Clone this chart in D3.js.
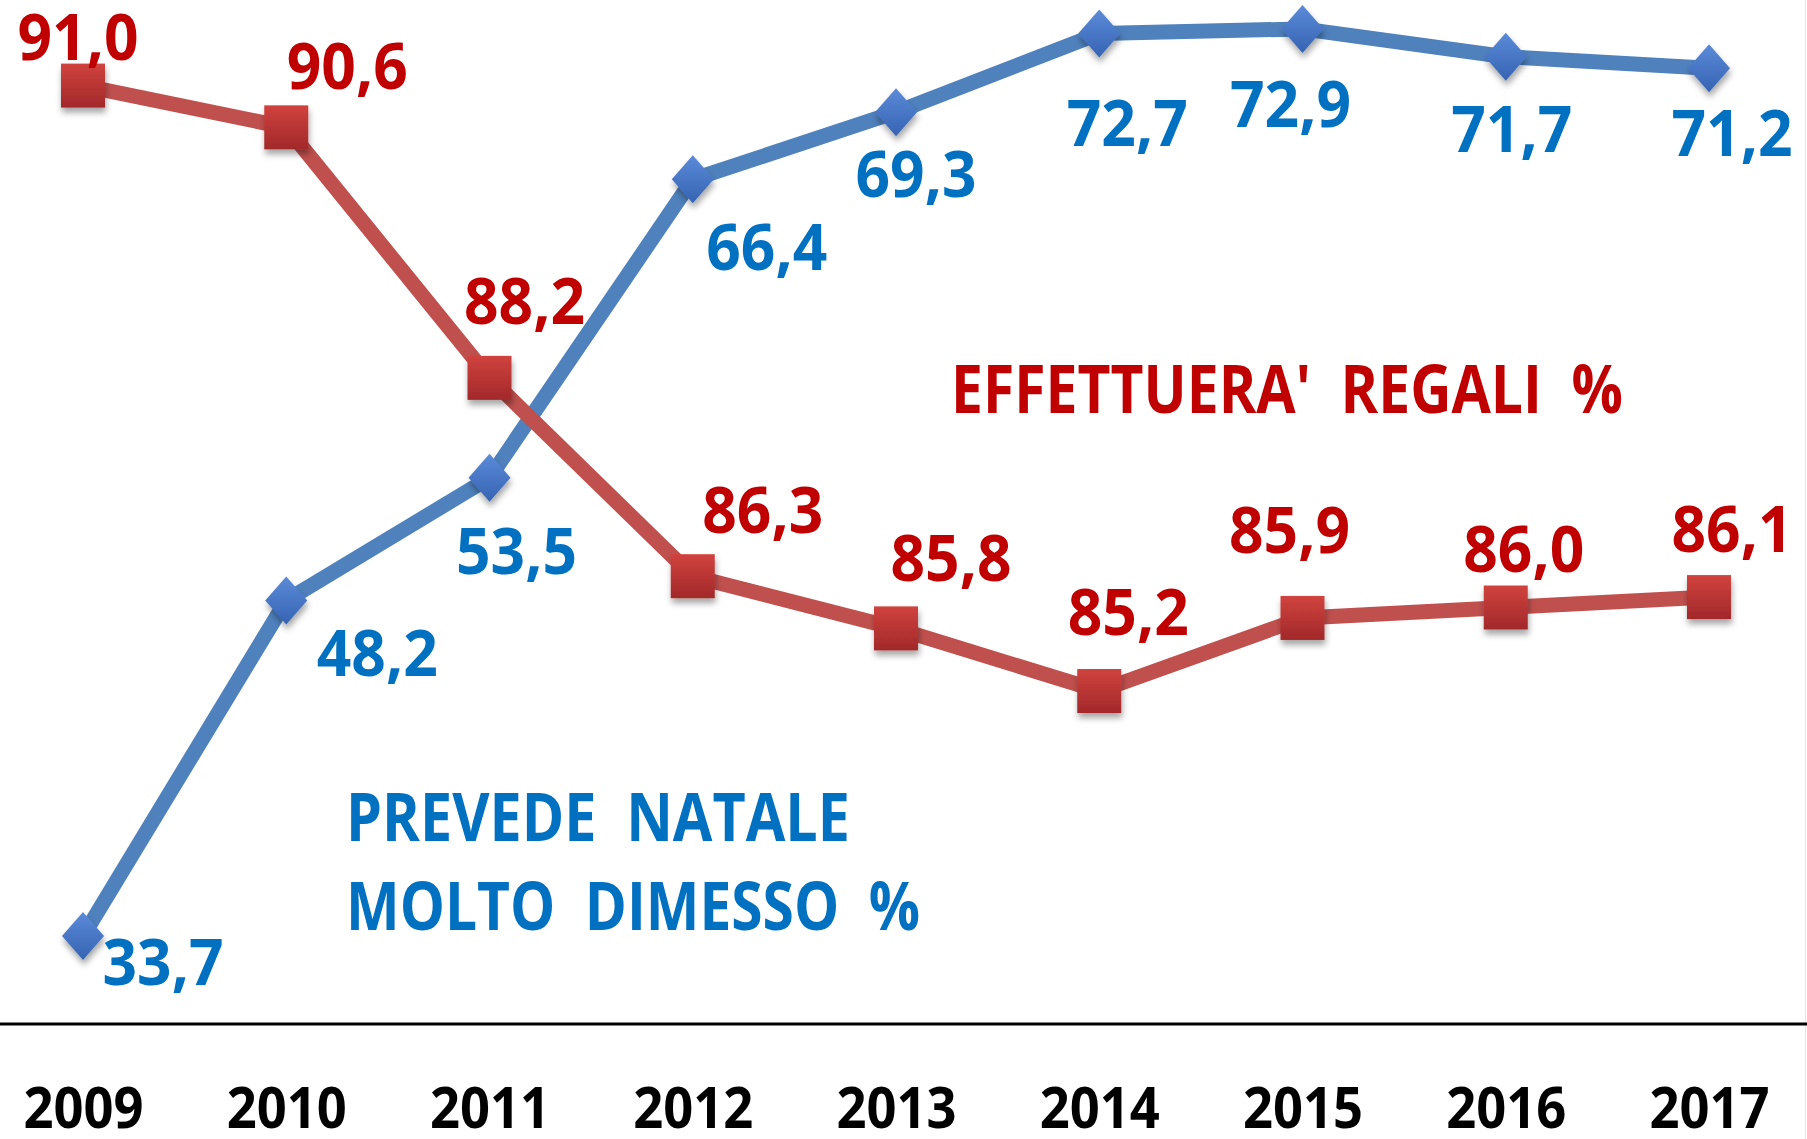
<!DOCTYPE html>
<html>
<head>
<meta charset="utf-8">
<script src="https://cdn.jsdelivr.net/npm/d3@7"></script>
<style>
  html, body { margin: 0; padding: 0; background: #fff; }
  text { font-family: "Open Sans", "Noto Sans", sans-serif; font-weight: 700; }
</style>
</head>
<body>
<div class="container"></div>
<script>
let width = 1807,
    height = 1139;

// data
let years = ["2009", "2010", "2011", "2012", "2013", "2014", "2015", "2016", "2017"];
let regali = [91.0, 90.6, 88.2, 86.3, 85.8, 85.2, 85.9, 86.0, 86.1];
let dimesso = [33.7, 48.2, 53.5, 66.4, 69.3, 72.7, 72.9, 71.7, 71.2];

// label offsets from the point (layout only)
let redLabelDx = [-5, 61, 35, 70, 55, 29, -13, 18, 23];
let redLabelDy = [-26, -38, -54, -43, -47, -56, -65, -36, -45];
let blueLabelDx = [80, 91, 27, 74, 20, 28, -12, 6, 23];
let blueLabelDy = [49, 75, 96, 91, 85, 112, 98, 95, 88];

let redText = "#C00000", redLine = "#C0504D";
let blueText = "#0070C0", blueLine = "#4F81BD";

let fmt = v => d3.format(".1f")(v).replace(".", ",");

let svg = d3.select(".container").append("svg")
    .attr("xmlns", "http://www.w3.org/2000/svg")
    .attr("width", width)
    .attr("height", height);

let defs = svg.append("defs");
let shadow = defs.append("filter").attr("id", "shadow")
    .attr("x", "-50%").attr("y", "-50%").attr("width", "200%").attr("height", "200%");
shadow.append("feDropShadow")
    .attr("dx", 1).attr("dy", 5).attr("stdDeviation", 3)
    .attr("flood-color", "#000").attr("flood-opacity", 0.35);

let gRed = defs.append("linearGradient").attr("id", "gred").attr("x1", 0).attr("y1", 0).attr("x2", 0).attr("y2", 1);
gRed.append("stop").attr("offset", "0%").attr("stop-color", "#D0433E");
gRed.append("stop").attr("offset", "100%").attr("stop-color", "#A2282A");
let gBlue = defs.append("linearGradient").attr("id", "gblue").attr("x1", 0).attr("y1", 0).attr("x2", 0).attr("y2", 1);
gBlue.append("stop").attr("offset", "0%").attr("stop-color", "#5B8BD8");
gBlue.append("stop").attr("offset", "100%").attr("stop-color", "#3563B2");

let plotTop = 0, plotBottom = 1024;

let x = d3.scalePoint()
    .domain(years)
    .range([83, 1709]);

// two hidden value axes, one per series
let yRed = d3.scaleLinear()
    .domain([82.01, 91.82])
    .range([plotBottom, plotTop]);
let yBlue = d3.scaleLinear()
    .domain([29.9, 74.15])
    .range([plotBottom, plotTop]);

// chart frame edge on the right
svg.append("line")
    .attr("x1", width - 1.5).attr("x2", width - 1.5)
    .attr("y1", 0).attr("y2", height)
    .attr("stroke", "#E3E3E3").attr("stroke-width", 1);

// x axis
let xAxis = svg.append("g")
    .attr("transform", "translate(0," + plotBottom + ")")
    .call(d3.axisBottom(x).tickSize(0).tickPadding(104));
xAxis.select(".domain").remove();
xAxis.append("line")
    .attr("x1", 0).attr("x2", width)
    .attr("y1", 0).attr("y2", 0)
    .attr("stroke", "#000").attr("stroke-width", 3);
xAxis.selectAll(".tick text")
    .attr("fill", "#000")
    .style("font-family", "'Open Sans', sans-serif")
    .style("font-weight", 700)
    .style("font-size", "57px")
    .attr("dy", 0)
    .attr("y", 104)
    .attr("textLength", 120)
    .attr("lengthAdjust", "spacingAndGlyphs");

let line = (ys, vals) => d3.line()
    .x((d, i) => x(years[i]))
    .y(d => ys(d))(vals);

// blue series
svg.append("path")
    .attr("d", line(yBlue, dimesso))
    .attr("fill", "none")
    .attr("stroke", blueLine)
    .attr("stroke-width", 15)
    .attr("stroke-linejoin", "round");

// red series (drawn on top)
svg.append("path")
    .attr("d", line(yRed, regali))
    .attr("fill", "none")
    .attr("stroke", redLine)
    .attr("stroke-width", 15)
    .attr("stroke-linejoin", "round");

svg.selectAll(".diamond")
    .data(dimesso)
    .enter().append("path")
    .attr("class", "diamond")
    .attr("d", "M0,-24L21,0L0,24L-21,0Z")
    .attr("fill", "url(#gblue)")
    .attr("filter", "url(#shadow)")
    .attr("transform", (d, i) => "translate(" + x(years[i]) + "," + yBlue(d) + ")");

svg.selectAll(".square")
    .data(regali)
    .enter().append("rect")
    .attr("class", "square")
    .attr("width", 44)
    .attr("height", 44)
    .attr("fill", "url(#gred)")
    .attr("filter", "url(#shadow)")
    .attr("x", (d, i) => x(years[i]) - 22)
    .attr("y", d => yRed(d) - 22);

// data labels
svg.selectAll(".redlabel")
    .data(regali)
    .enter().append("text")
    .attr("class", "redlabel")
    .attr("text-anchor", "middle")
    .attr("fill", redText)
    .style("font-size", "65px")
    .attr("x", (d, i) => x(years[i]) + redLabelDx[i])
    .attr("y", (d, i) => yRed(d) + redLabelDy[i])
    .attr("textLength", 121)
    .attr("lengthAdjust", "spacingAndGlyphs")
    .text(fmt);

svg.selectAll(".bluelabel")
    .data(dimesso)
    .enter().append("text")
    .attr("class", "bluelabel")
    .attr("text-anchor", "middle")
    .attr("fill", blueText)
    .style("font-size", "65px")
    .attr("x", (d, i) => x(years[i]) + blueLabelDx[i])
    .attr("y", (d, i) => yBlue(d) + blueLabelDy[i])
    .attr("textLength", 121)
    .attr("lengthAdjust", "spacingAndGlyphs")
    .text(fmt);

// series names
svg.append("text")
    .attr("x", 951).attr("y", 413)
    .attr("fill", redText)
    .style("font-size", "66px")
    .attr("textLength", 672)
    .attr("lengthAdjust", "spacingAndGlyphs")
    .attr("xml:space", "preserve")
    .text("EFFETTUERA'  REGALI  %");

svg.append("text")
    .attr("x", 346).attr("y", 841)
    .attr("fill", blueText)
    .style("font-size", "66px")
    .attr("textLength", 504)
    .attr("lengthAdjust", "spacingAndGlyphs")
    .attr("xml:space", "preserve")
    .text("PREVEDE  NATALE");

svg.append("text")
    .attr("x", 346).attr("y", 930)
    .attr("fill", blueText)
    .style("font-size", "66px")
    .attr("textLength", 574)
    .attr("lengthAdjust", "spacingAndGlyphs")
    .attr("xml:space", "preserve")
    .text("MOLTO  DIMESSO  %");
</script>
</body>
</html>
